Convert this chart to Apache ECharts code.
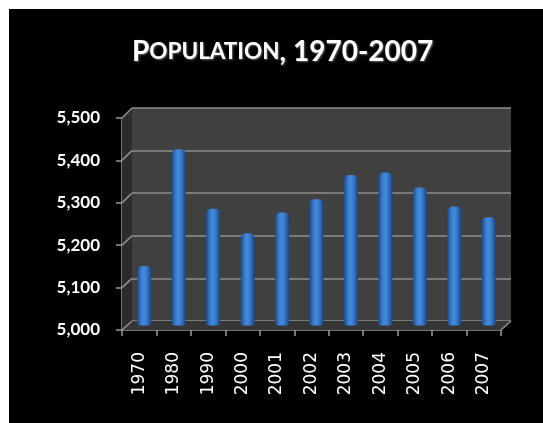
<!DOCTYPE html>
<html><head><meta charset="utf-8">
<script src="https://cdn.jsdelivr.net/npm/echarts@6/dist/echarts.min.js"></script>
<style>
html,body{margin:0;padding:0;background:#fff;}
#c{position:absolute;left:9px;top:9px;width:534px;height:414px;background:#000;}
</style></head>
<body><div id="c"></div>
<script>
const categories = ['1970','1980','1990','2000','2001','2002','2003','2004','2005','2006','2007'];
const population = [5140, 5415, 5275, 5217, 5266, 5297, 5354, 5360, 5325, 5280, 5255];
const yTicks = [5000, 5100, 5200, 5300, 5400, 5500];
const yMin = yTicks[0], yMax = yTicks[yTicks.length-1], yStep = yTicks[1]-yTicks[0];

const FONT = 'Lato';
const chart = echarts.init(document.getElementById('c'), null, {renderer:'canvas'});
const gridColor = '#8e8e8e';

function hiddenAxisX(i){ return {type:'category', gridIndex:i, data:categories, show:false}; }
function hiddenAxisY(i, split){
  return {type:'value', gridIndex:i, min:yMin, max:yMax, interval:yStep,
    axisLabel:{show:false}, axisLine:{show:false}, axisTick:{show:false},
    splitLine:{show:split, lineStyle:{color:gridColor, width:1.6}}};
}
const shadow = {textShadowColor:'rgba(120,120,120,0.8)', textShadowBlur:2, textShadowOffsetX:1, textShadowOffsetY:1};

const option = {
  backgroundColor:'#000',
  animation:false,
  title:{
    left:118, top:24,
    text:'{a|P}{b|OPULATION}{a|, 1970-2007}',
    textStyle:{
      rich:{
        a:Object.assign({fontFamily:FONT, fontWeight:'bold', fontSize:28, color:'#fff'}, shadow),
        b:Object.assign({fontFamily:FONT, fontWeight:'bold', fontSize:22.5, color:'#fff'}, shadow)
      }
    }
  },
  grid:[
    {left:123, top:99, right:32, bottom:102, show:true, backgroundColor:'#404040', borderWidth:0},
    {left:118, top:104, right:37, bottom:97.5},
    {left:113, top:109, right:42, bottom:93}
  ],
  xAxis:[
    hiddenAxisX(0),
    hiddenAxisX(1),
    {type:'category', gridIndex:2, data:categories,
      axisLine:{show:true, lineStyle:{color:'#9a9a9a', width:1.5}},
      axisTick:{show:true, length:6, lineStyle:{color:'#9a9a9a', width:1.5}},
      axisLabel:{rotate:90, margin:22, color:'#fff', fontFamily:'DejaVu Sans', fontWeight:'normal', fontSize:17}
    }
  ],
  yAxis:[
    hiddenAxisY(0, true),
    hiddenAxisY(1, false),
    {type:'value', gridIndex:2, min:yMin, max:yMax, interval:yStep,
      axisLine:{show:true, lineStyle:{color:'#9a9a9a', width:1.5}},
      axisTick:{show:true, length:6, lineStyle:{color:'#9a9a9a', width:1.5}},
      splitLine:{show:false},
      axisLabel:{margin:22, color:'#fff', fontFamily:FONT, fontWeight:'bold', fontSize:17,
        formatter:function(v){ return v.toLocaleString('en-US'); }}
    }
  ],
  series:[{
    type:'bar', xAxisIndex:1, yAxisIndex:1, data:population, barWidth:14, z:5,
    itemStyle:{
      borderRadius:[5,5,3,3],
      color:new echarts.graphic.LinearGradient(0,0,1,0,[
        {offset:0, color:'#1c4a8a'},
        {offset:0.3, color:'#3a7fd0'},
        {offset:0.5, color:'#4689dc'},
        {offset:0.75, color:'#3070bd'},
        {offset:1, color:'#1a4380'}
      ])
    }
  }]
};
chart.setOption(option);

// 3D side wall, floor and depth lines, placed from the axes' own scales
const bx = chart.getModel().getComponent('grid',0).coordinateSystem.getRect();
const fr = chart.getModel().getComponent('grid',2).coordinateSystem.getRect();
const els = [];
const backTop = bx.y, backBottom = bx.y + bx.height, backLeft = bx.x, backRight = bx.x + bx.width;
const frontTop = fr.y, frontBottom = fr.y + fr.height, frontLeft = fr.x, frontRight = fr.x + fr.width;
els.push({type:'polygon', z:1, shape:{points:[[frontLeft,frontTop],[backLeft,backTop],[backLeft,backBottom],[frontLeft,frontBottom]]}, style:{fill:'#2c2c2c'}});
els.push({type:'polygon', z:1, shape:{points:[[frontLeft,frontBottom],[backLeft,backBottom],[backRight,backBottom],[frontRight,frontBottom]]}, style:{fill:'#363636'}});
yTicks.forEach(function(v){
  const yb = chart.convertToPixel({yAxisIndex:0}, v);
  const yf = chart.convertToPixel({yAxisIndex:2}, v);
  els.push({type:'line', z:2, shape:{x1:frontLeft, y1:yf, x2:backLeft, y2:yb}, style:{stroke:gridColor, lineWidth:1.6}});
});
els.push({type:'line', z:2, shape:{x1:frontRight, y1:frontBottom, x2:backRight, y2:backBottom}, style:{stroke:gridColor, lineWidth:1.6}});
chart.setOption({graphic:{elements:els}});
</script></body></html>
